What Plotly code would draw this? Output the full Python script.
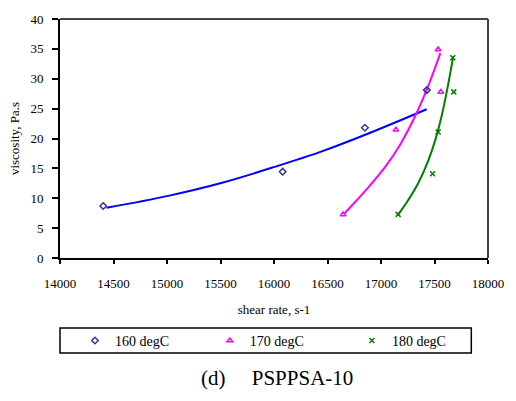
import plotly.graph_objects as go

# Measured points
x160 = [14404, 16081, 16850, 17428]
y160 = [8.7, 14.45, 21.8, 28.1]
x170 = [16646, 17139, 17558, 17534]
y170 = [7.3, 21.45, 27.8, 34.9]
x180 = [17160, 17482, 17534, 17680, 17671]
y180 = [7.3, 14.1, 21.1, 27.8, 33.5]

# Trendlines
t160_x = [14435, 15012, 15498, 16015, 16440, 16835, 17427]
t160_y = [8.4, 10.4, 12.5, 15.3, 17.8, 20.5, 24.9]
t170_x = [16660, 16750, 16900, 17050, 17180, 17336, 17450, 17555]
t170_y = [7.5, 9.2, 12.2, 15.5, 19.0, 24.4, 29.2, 34.3]
t180_x = [17160, 17240, 17350, 17440, 17510, 17570, 17625, 17676]
t180_y = [7.3, 9.3, 12.6, 16.2, 19.9, 24.0, 28.8, 33.8]

names = ["160 degC", "170 degC", "180 degC"]
x_ticks = [14000, 14500, 15000, 15500, 16000, 16500, 17000, 17500, 18000]
y_ticks = [0, 5, 10, 15, 20, 25, 30, 35, 40]

FONT = "Liberation Serif"
fig = go.Figure()

series = [
    (x160, y160, t160_x, t160_y, "#0000FF", "#333399", "diamond-open", names[0], "legend"),
    (x170, y170, t170_x, t170_y, "#FF00FF", "#FF00FF", "triangle-up-open", names[1], "legend2"),
    (x180, y180, t180_x, t180_y, "#008000", "#008000", "x-thin-open", names[2], "legend3"),
]
for xs, ys, tx, ty, lc, mc, sym, nm, lg in series:
    fig.add_trace(go.Scatter(x=tx, y=ty, mode="lines", line=dict(color=lc, width=2, shape="spline"),
                             showlegend=False, hoverinfo="skip"))
for xs, ys, tx, ty, lc, mc, sym, nm, lg in series:
    fig.add_trace(go.Scatter(x=xs, y=ys, mode="markers", name=nm, legend=lg,
                             marker=dict(symbol=sym, size=5, color=mc, line=dict(color=mc, width=1.5))))

def leg(xpos):
    return dict(orientation="h", x=xpos, xanchor="left", y=-0.28, yanchor="top",
                font=dict(family=FONT, size=14, color="black"),
                bgcolor="rgba(0,0,0,0)", itemwidth=30)

fig.update_layout(
    width=516, height=401,
    margin=dict(l=60, r=19, t=16, b=143),
    paper_bgcolor="white", plot_bgcolor="white",
    font=dict(family=FONT, size=13, color="black"),
    showlegend=True,
    legend=leg(0.035), legend2=leg(0.350), legend3=leg(0.682),
    xaxis=dict(range=[14000, 18000], tickvals=x_ticks, ticktext=[str(v) for v in x_ticks],
               showgrid=False, zeroline=False, showline=True, linecolor="black", linewidth=2,
               ticks="outside", ticklen=4, tickwidth=1.5, tickcolor="black", ticklabelstandoff=8,
               tickfont=dict(family=FONT, size=13),
               title=dict(text="shear rate, s-1", standoff=15, font=dict(family=FONT, size=13))),
    yaxis=dict(range=[0, 40], tickvals=y_ticks, ticktext=[str(v) for v in y_ticks],
               showgrid=False, zeroline=False, showline=True, linecolor="black", linewidth=2,
               ticks="outside", ticklen=6, tickwidth=1.5, tickcolor="black", ticklabelstandoff=6,
               tickfont=dict(family=FONT, size=13),
               title=dict(text="viscosity, Pa.s", standoff=8, font=dict(family=FONT, size=13))),
)
# plot frame top/right
fig.add_shape(type="line", xref="paper", yref="paper", x0=0, x1=1, y0=1, y1=1,
              line=dict(color="#444444", width=2))
fig.add_shape(type="line", xref="paper", yref="paper", x0=1, x1=1, y0=0, y1=1,
              line=dict(color="#444444", width=2))
# legend frame
fig.add_shape(type="rect", xref="paper", yref="paper", x0=0.0, x1=0.961, y0=-0.293, y1=-0.397,
              line=dict(color="black", width=1.5))
fig.add_annotation(text="(d)" + "\u00a0" * 5 + "PSPPSA-10", xref="paper", yref="paper",
                   x=0.506, y=-0.504, showarrow=False,
                   font=dict(family=FONT, size=21, color="black"),
                   xanchor="center", yanchor="middle")

fig.write_html("out.html")
